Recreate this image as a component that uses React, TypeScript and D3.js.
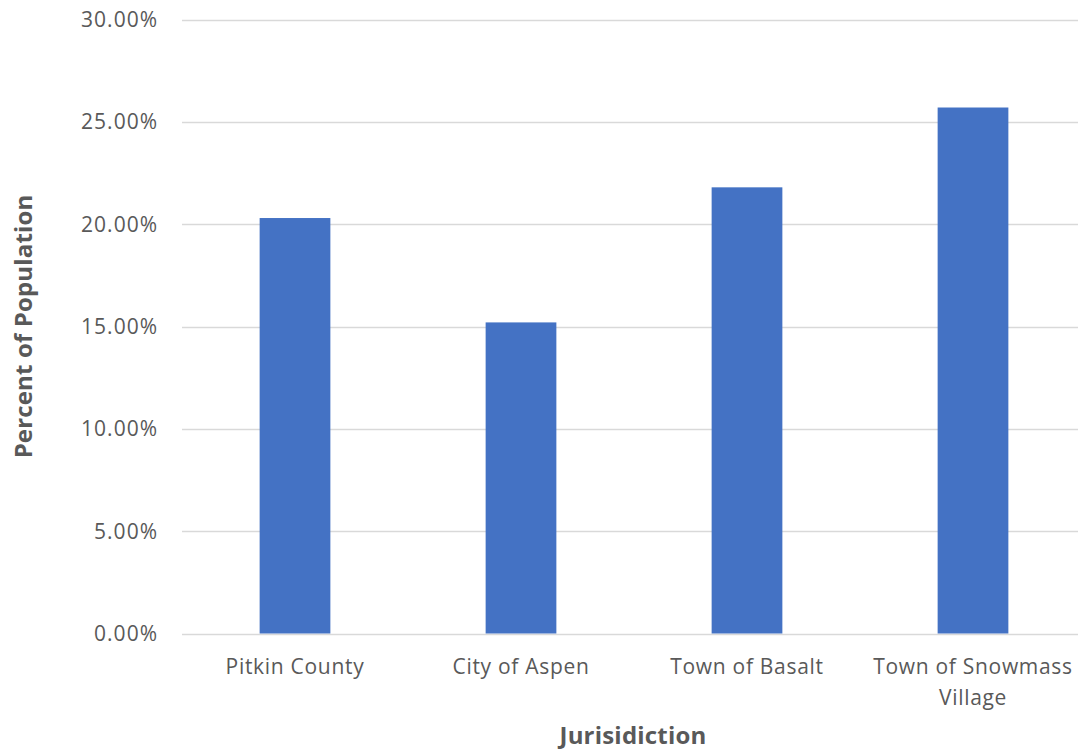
import React, { useEffect, useRef } from "react";
import * as d3 from "d3";

// Share of population by jurisdiction
const categories = ["Pitkin County", "City of Aspen", "Town of Basalt", "Town of Snowmass Village"];
const values = [20.3, 15.2, 21.8, 25.7];
const yTicks = [0, 5, 10, 15, 20, 25, 30];
const xTitle = "Jurisidiction";
const yTitle = "Percent of Population";

const W = 1078;
const H = 750;
const FONT = "'Open Sans', 'Noto Sans', sans-serif";
const TEXT = "#595959";

function wrap(sel: d3.Selection<SVGTextElement, unknown, null, undefined>, width: number) {
  sel.each(function () {
    const text = d3.select(this);
    const words = text.text().split(/\s+/);
    const x = text.attr("x");
    const y = text.attr("y");
    text.text(null);
    let line: string[] = [];
    let lineNo = 0;
    let tspan = text.append("tspan").attr("x", x).attr("y", y).attr("dy", "0em");
    for (const w of words) {
      line.push(w);
      tspan.text(line.join(" "));
      if ((tspan.node() as SVGTSpanElement).getComputedTextLength() > width && line.length > 1) {
        line.pop();
        tspan.text(line.join(" "));
        line = [w];
        lineNo += 1;
        tspan = text.append("tspan").attr("x", x).attr("y", y).attr("dy", `${lineNo * 1.48}em`).text(w);
      }
    }
  });
}

export default function App() {
  const ref = useRef<SVGSVGElement | null>(null);

  useEffect(() => {
    const svg = d3.select(ref.current);
    svg.selectAll("*").remove();

    const left = 182;
    const right = 1086;
    const top = 19.5;
    const bottom = 633.5;

    const x = d3.scaleBand<string>().domain(categories).range([left, right]).paddingInner(0.687).paddingOuter(0.3435);
    const y = d3.scaleLinear().domain([0, 30]).range([bottom, top]);

    // gridlines
    svg
      .append("g")
      .selectAll("line")
      .data(yTicks)
      .join("line")
      .attr("x1", left)
      .attr("x2", right)
      .attr("y1", (d) => Math.round(y(d)) + 0.5)
      .attr("y2", (d) => Math.round(y(d)) + 0.5)
      .attr("stroke", "#d9d9d9")
      .attr("stroke-width", 1.3);

    // y tick labels
    svg
      .append("g")
      .selectAll("text")
      .data(yTicks)
      .join("text")
      .attr("x", 158)
      .attr("y", (d) => y(d))
      .attr("dy", "0.36em")
      .attr("text-anchor", "end")
      .attr("font-family", FONT)
      .attr("font-size", 21)
      .attr("letter-spacing", 1)
      .attr("fill", TEXT)
      .text((d) => d.toFixed(2) + "%");

    // bars
    svg
      .append("g")
      .selectAll("rect")
      .data(values)
      .join("rect")
      .attr("x", (_, i) => x(categories[i])!)
      .attr("width", x.bandwidth())
      .attr("y", (d) => y(d))
      .attr("height", (d) => bottom - y(d))
      .attr("fill", "#4472c4");

    // category labels
    const labels = svg
      .append("g")
      .selectAll("text")
      .data(categories)
      .join("text")
      .attr("x", (d) => x(d)! + x.bandwidth() / 2)
      .attr("y", 673.5)
      .attr("text-anchor", "middle")
      .attr("font-family", FONT)
      .attr("font-size", 21)
      .attr("letter-spacing", 0.7)
      .attr("fill", TEXT)
      .text((d) => d);
    labels.each(function () {
      wrap(d3.select(this as SVGTextElement), x.step() * 0.95);
    });

    // axis titles
    svg
      .append("text")
      .attr("x", (left + right) / 2 - 1)
      .attr("y", 743.5)
      .attr("text-anchor", "middle")
      .attr("font-family", FONT)
      .attr("font-size", 24)
      .attr("font-weight", "bold")
      .attr("letter-spacing", 0.2)
      .attr("fill", TEXT)
      .text(xTitle);

    svg
      .append("text")
      .attr("transform", `translate(32, ${(top + bottom) / 2}) rotate(-90)`)
      .attr("text-anchor", "middle")
      .attr("font-family", FONT)
      .attr("font-size", 24)
      .attr("font-weight", "bold")
      .attr("letter-spacing", 0.15)
      .attr("fill", TEXT)
      .text(yTitle);
  }, []);

  return (
    <svg
      ref={ref}
      width={W}
      height={H}
      style={{ position: "absolute", left: 0, top: 0, background: "#fff", display: "block" }}
    />
  );
}
